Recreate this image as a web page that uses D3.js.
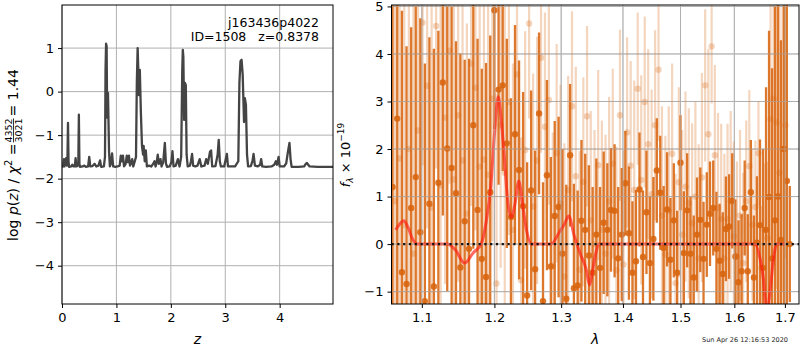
<!DOCTYPE html>
<html><head><meta charset="utf-8">
<script src="https://cdn.jsdelivr.net/npm/d3@7"></script>
<style>
body{margin:0;background:#fff;}
svg{display:block;font-family:"DejaVu Sans",sans-serif;}
</style></head><body>
<svg id="fig" width="800" height="350"></svg>
<script>
// ---- redshift probability curve: log p(z) ----
const zGrid = [0.00,0.02,0.035,0.045,0.06,0.075,0.09,0.10,0.11,0.12,0.13,0.17,0.19,0.21,0.235,0.25,0.265,0.29,0.30,0.31,0.32,0.33,0.38,0.41,0.44,0.48,0.50,0.52,0.56,0.60,0.63,0.67,0.70,0.72,0.77,0.79,0.80,0.81,0.82,0.83,0.845,0.865,0.88,0.90,0.92,0.94,0.98,1.02,1.06,1.08,1.10,1.12,1.14,1.17,1.19,1.21,1.23,1.25,1.27,1.29,1.31,1.36,1.375,1.39,1.40,1.41,1.43,1.45,1.47,1.49,1.50,1.52,1.54,1.56,1.60,1.64,1.68,1.70,1.72,1.74,1.76,1.78,1.81,1.83,1.86,1.89,1.91,1.93,1.98,2.01,2.03,2.05,2.09,2.13,2.16,2.19,2.21,2.22,2.23,2.245,2.26,2.275,2.29,2.31,2.35,2.37,2.39,2.41,2.45,2.49,2.53,2.56,2.62,2.65,2.68,2.72,2.74,2.76,2.82,2.86,2.88,2.90,2.92,2.98,3.01,3.03,3.05,3.12,3.18,3.24,3.26,3.28,3.30,3.32,3.345,3.36,3.38,3.40,3.42,3.47,3.50,3.52,3.545,3.60,3.64,3.66,3.68,3.75,3.85,3.90,3.93,3.95,3.98,4.00,4.08,4.12,4.15,4.18,4.20,4.22,4.35,4.45,4.48,4.50,4.55,4.70,4.98];
const logPz = [-1.73,-1.72,-1.55,-1.72,-1.62,-1.53,-1.70,-1.55,-0.72,-1.60,-1.73,-1.72,-1.68,-1.72,-1.72,-1.53,-1.72,-1.70,-1.62,-0.53,-1.65,-1.73,-1.72,-1.70,-1.73,-1.72,-1.50,-1.72,-1.71,-1.66,-1.72,-1.70,-1.58,-1.73,-1.72,-1.50,0.50,1.10,1.05,-0.60,-0.03,-1.40,-1.72,-1.65,-1.42,-1.72,-1.73,-1.72,-1.70,-1.47,-1.60,-1.47,-1.72,-1.66,-1.47,-1.62,-1.47,-1.70,-1.64,-1.55,-1.72,-1.50,0.20,1.00,0.60,-0.08,0.50,-0.50,-1.25,-1.45,-1.25,-1.60,-1.35,-1.72,-1.70,-1.72,-1.65,-1.60,-1.72,-1.62,-1.45,-1.66,-1.55,-1.72,-1.62,-1.18,-1.65,-1.73,-1.72,-1.62,-1.37,-1.72,-1.70,-1.55,-1.72,-1.50,0.50,0.96,0.80,-0.65,0.20,0.15,-1.45,-1.72,-1.70,-1.60,-1.43,-1.70,-1.72,-1.70,-1.55,-1.72,-1.70,-1.55,-1.66,-1.38,-1.35,-1.72,-1.71,-1.45,-1.11,-1.60,-1.72,-1.72,-1.55,-1.43,-1.72,-1.72,-1.72,-1.60,0.20,0.70,0.73,0.40,-0.70,-0.15,-0.30,-1.45,-1.72,-1.71,-1.60,-1.43,-1.70,-1.72,-1.68,-1.55,-1.72,-1.73,-1.72,-1.68,-1.60,-1.68,-1.50,-1.72,-1.72,-1.65,-1.40,-1.18,-1.55,-1.73,-1.73,-1.72,-1.66,-1.64,-1.72,-1.73,-1.73];
const zTicks = [0,1,2,3,4];
const pTicks = [-4,-3,-2,-1,0,1];

// ---- spectrum, primary extraction ----
const waveDark = [1.062,1.068,1.074,1.080,1.086,1.092,1.098,1.104,1.110,1.116,
1.122,1.128,1.134,1.140,1.146,1.152,1.158,1.164,1.170,1.176,
1.182,1.188,1.194,1.200,1.206,1.212,1.218,1.224,1.230,1.236,
1.242,1.248,1.254,1.260,1.266,1.272,1.278,1.284,1.290,1.296,
1.302,1.308,1.314,1.320,1.326,1.332,1.338,1.344,1.350,1.356,
1.362,1.368,1.374,1.380,1.386,1.392,1.398,1.404,1.410,1.416,
1.422,1.428,1.434,1.440,1.446,1.452,1.458,1.464,1.470,1.476,
1.482,1.488,1.494,1.500,1.506,1.512,1.518,1.524,1.530,1.536,
1.542,1.548,1.554,1.560,1.566,1.572,1.578,1.584,1.590,1.596,
1.602,1.608,1.614,1.620,1.626,1.632,1.638,1.644,1.650,1.656,
1.662,1.668,1.674,1.680,1.686,1.692,1.698,1.704,1.710];
const fluxDark = [1.2,2.64,-0.59,-0.84,0.76,1.41,0.25,-1.2,0.85,-0.89,
1.29,3.40,2.01,1.60,1.07,-0.49,0.48,-0.10,2.50,0.72,
-0.31,-0.69,1.09,4.92,3.25,3.34,2.12,0.57,2.31,1.56,
0.80,-1.08,1.13,-0.53,2.75,-1.20,1.45,-0.47,0.59,0.78,
-0.20,-1.15,1.87,-0.93,-0.87,0.49,0.30,-0.24,-0.60,0.20,
-0.50,0.45,0.30,0.72,0.70,-0.30,0.20,1.28,0.23,-0.60,
-0.36,1.15,-0.27,0.67,-0.40,0.11,1.55,1.08,-0.08,0.73,
-0.33,0.50,-0.60,1.71,-0.19,0.71,-0.20,-0.70,0.20,0.51,
-0.31,0.41,0.64,0.76,-0.10,-0.35,-0.63,0.32,0.37,0.91,
-0.26,-0.80,-0.57,0.76,-0.57,1.09,-0.70,0.03,0.40,-0.50,
0.30,0.99,-0.30,0.50,1.00,0.09,2.00,1.33,0.00];
const errDark = [4.2,4.0,5.5,5.0,3.8,3.6,4.5,5.0,3.5,5.0,
3.2,2.8,3.0,3.4,3.2,4.5,3.4,4.0,2.6,3.6,
4.0,4.5,3.3,2.5,2.0,1.8,2.2,2.5,2.3,2.3,
2.4,2.8,2.1,2.5,1.7,2.5,2.0,2.3,2.0,1.9,
2.2,2.4,1.5,2.2,2.0,1.7,1.6,1.9,1.8,1.6,
1.7,1.5,1.4,1.3,1.4,1.5,1.4,1.1,1.4,1.5,
1.5,1.2,1.4,1.3,1.4,1.3,1.1,1.2,1.3,1.2,
1.3,1.2,1.3,1.0,1.3,1.2,1.2,1.3,1.2,1.1,
1.2,1.1,1.1,1.0,1.2,1.2,1.3,1.1,1.1,1.0,
1.2,1.3,1.2,1.0,1.2,1.1,1.3,1.4,1.8,2.5,
3.0,3.5,4.0,4.5,5.5,4.2,5.5,5.0,1.22];

// ---- spectrum, second extraction (drawn faint) ----
const waveLight = [1.065,1.071,1.077,1.083,1.089,1.095,1.101,1.107,1.113,1.119,
1.125,1.131,1.137,1.143,1.149,1.155,1.161,1.167,1.173,1.179,
1.185,1.191,1.197,1.203,1.209,1.215,1.221,1.227,1.233,1.239,
1.245,1.251,1.257,1.263,1.269,1.275,1.281,1.287,1.293,1.299,
1.305,1.311,1.317,1.323,1.329,1.335,1.341,1.347,1.353,1.359,
1.365,1.371,1.377,1.383,1.389,1.395,1.401,1.407,1.413,1.419,
1.425,1.431,1.437,1.443,1.449,1.455,1.461,1.467,1.473,1.479,
1.485,1.491,1.497,1.503,1.509,1.515,1.521,1.527,1.533,1.539,
1.545,1.551,1.557,1.563,1.569,1.575,1.581,1.587,1.593,1.599,
1.605,1.611,1.617,1.623,1.629,1.635,1.641,1.647,1.653,1.659,
1.665,1.671,1.677,1.683,1.689,1.695,1.701];
const fluxLight = [0.9,1.8,0.4,2.0,-0.2,2.39,4.66,3.33,0.77,4.59,
1.24,2.66,4.07,1.36,2.71,1.76,0.64,3.80,3.29,1.63,
1.78,1.46,3.06,-0.83,2.5,1.5,2.99,0.30,3.57,-0.76,
1.98,4.64,0.79,1.76,3.92,2.47,3.03,-0.45,1.91,0.85,
-0.68,1.14,2.90,1.43,-0.54,1.31,2.69,0.50,0.00,1.66,
0.30,-0.20,0.90,1.69,-0.55,2.71,-0.43,2.35,1.65,1.14,
3.27,1.35,2.99,2.10,1.05,2.50,3.67,0.60,-0.22,0.70,
1.90,-0.82,1.30,0.20,1.21,0.86,0.44,1.00,-0.30,1.40,
3.34,2.31,4.16,1.87,0.76,0.53,-0.30,0.53,0.90,0.16,
-0.26,0.60,-0.40,0.90,1.64,0.41,0.78,1.91,-0.50,0.30,
0.13,2.63,3.06,2.56,1.50,2.00,2.50];
const errLight = [5.0,4.5,5.0,4.5,5.5,4.0,3.0,3.0,4.5,3.0,
4.0,3.5,2.8,4.0,3.5,3.8,4.0,3.0,3.0,3.8,
3.6,3.8,3.0,4.0,3.0,3.5,2.8,3.5,2.4,3.0,
2.5,2.0,2.8,2.6,2.0,2.4,2.2,2.8,2.3,2.5,
2.8,2.4,2.0,2.3,2.5,2.2,1.9,2.3,2.4,2.0,
2.3,2.5,2.2,2.0,2.6,1.8,2.4,2.0,2.2,2.3,
1.6,2.2,1.8,2.0,2.2,2.0,1.5,2.3,2.5,2.2,
1.9,2.3,2.0,2.2,2.0,2.0,2.1,2.0,2.4,2.2,
1.6,1.8,1.2,1.9,2.0,2.0,2.2,2.0,1.9,2.0,
2.0,1.8,1.9,1.7,1.6,1.6,1.4,1.1,1.3,1.4,
1.6,3.5,3.5,3.5,4.0,3.0,2.8];

// ---- best-fit line model ----
const waveModel = [1.066,1.071,1.0765,1.082,1.088,1.094,1.134,1.145,1.158,1.170,1.181,1.188,1.195,1.200,1.2055,1.210,1.214,1.219,1.2245,1.230,1.2357,1.241,1.247,1.2545,1.2845,1.297,1.305,1.312,1.320,1.330,1.340,1.345,1.350,1.355,1.360,1.640,1.650,1.657,1.6635,1.670,1.677,1.6835,1.700];
const fluxModel = [0.30,0.42,0.49,0.35,0.10,0.0,0.0,-0.12,-0.40,-0.18,0.0,0.45,1.25,2.30,3.10,2.60,1.90,0.95,0.56,0.85,1.33,0.85,0.30,0.0,0.0,0.25,0.42,0.59,0.20,-0.20,-0.55,-0.86,-0.55,-0.20,0.0,0.0,-0.30,-0.75,-1.45,-1.00,-0.30,0.0,0.0];
const waveTicks = [1.1,1.2,1.3,1.4,1.5,1.6,1.7];
const fluxTicks = [-1,0,1,2,3,4,5];

const svg = d3.select("#fig");
const FS = 13;

// ================= left panel =================
const L = {x0:62, x1:333, y0:5, y1:304};
const xz = d3.scaleLinear([0,4.98],[L.x0,L.x1]);
const yp = d3.scaleLinear([-4.88,1.99],[L.y1,L.y0]);
const gl = svg.append("g");

gl.append("g").selectAll("line").data(zTicks).join("line")
  .attr("x1",d=>xz(d)).attr("x2",d=>xz(d)).attr("y1",L.y0).attr("y2",L.y1)
  .attr("stroke","#b0b0b0").attr("stroke-width",1);
gl.append("g").selectAll("line").data(pTicks).join("line")
  .attr("y1",d=>yp(d)).attr("y2",d=>yp(d)).attr("x1",L.x0).attr("x2",L.x1)
  .attr("stroke","#b0b0b0").attr("stroke-width",1);

gl.append("clipPath").attr("id","clipL").append("rect")
  .attr("x",L.x0).attr("y",L.y0).attr("width",L.x1-L.x0).attr("height",L.y1-L.y0);
gl.append("path").attr("clip-path","url(#clipL)")
  .datum(d3.range(zGrid.length))
  .attr("d", d3.line().x(i=>xz(zGrid[i])).y(i=>yp(logPz[i])))
  .attr("fill","none").attr("stroke","#444").attr("stroke-width",2.3).attr("stroke-linejoin","round");

const axL = gl.append("g").attr("transform",`translate(0,${L.y1})`)
  .call(d3.axisBottom(xz).tickValues(zTicks).tickFormat(d3.format("d")).tickSize(4).tickPadding(5));
const ayL = gl.append("g").attr("transform",`translate(${L.x0},0)`)
  .call(d3.axisLeft(yp).tickValues(pTicks).tickFormat(d3.format("d")).tickSize(4).tickPadding(4));
[axL,ayL].forEach(a=>{a.select(".domain").remove();a.selectAll("text").attr("font-size",FS).attr("fill","#000").attr("font-family","DejaVu Sans");});
gl.append("rect").attr("x",L.x0).attr("y",L.y0).attr("width",L.x1-L.x0).attr("height",L.y1-L.y0)
  .attr("fill","none").attr("stroke","#000").attr("stroke-width",1);

gl.append("text").attr("x",319).attr("y",27).attr("text-anchor","end").attr("font-size",12.5).text("j163436p4022");
gl.append("text").attr("x",319).attr("y",41).attr("text-anchor","end").attr("font-size",12.5)
  .attr("xml:space","preserve").text("ID=1508   z=0.8378");
gl.append("text").attr("x",(L.x0+L.x1)/2).attr("y",344).attr("text-anchor","middle")
  .attr("font-size",14).attr("font-style","italic").text("z");

// y label with stacked fraction
(function(){
  const g = gl.append("g");
  const t1 = g.append("text").attr("font-size",14);
  t1.append("tspan").text("log ");
  t1.append("tspan").attr("font-style","italic").text("p");
  t1.append("tspan").text("(");
  t1.append("tspan").attr("font-style","italic").text("z");
  t1.append("tspan").text(") / ");
  t1.append("tspan").attr("font-style","italic").text("χ");
  t1.append("tspan").attr("font-size",10).attr("dy",-6).text("2");
  t1.append("tspan").attr("dy",6).text(" = ");
  const w1 = t1.node().getComputedTextLength();
  const fw = 24;
  const fx = w1 + 1 + fw/2;
  g.append("text").attr("x",fx).attr("y",-6).attr("text-anchor","middle").attr("font-size",9.5).text("4352");
  g.append("text").attr("x",fx).attr("y",4).attr("text-anchor","middle").attr("font-size",9.5).text("3021");
  g.append("line").attr("x1",w1+1).attr("x2",w1+1+fw).attr("y1",-4.5).attr("y2",-4.5).attr("stroke","#000").attr("stroke-width",0.8);
  const t3 = g.append("text").attr("x",w1+fw+3).attr("font-size",14).text(" = 1.44");
  const W = w1 + fw + 3 + t3.node().getComputedTextLength();
  g.attr("transform",`translate(18,${155+W/2}) rotate(-90)`);
})();

// ================= right panel =================
const R = {x0:391.5, x1:799, y0:5, y1:304};
const xw = d3.scaleLog([1.0607,1.729],[R.x0,R.x1]);
const yf = d3.scaleLinear([-1.26,5.03],[R.y1,R.y0]);
const gr = svg.append("g");
gr.append("clipPath").attr("id","clipR").append("rect")
  .attr("x",R.x0).attr("y",R.y0).attr("width",R.x1-R.x0).attr("height",R.y1-R.y0);
const data = gr.append("g").attr("clip-path","url(#clipR)");
const ORANGE = "#d8640e";

function errorSeries(g, wave, flux, err, alpha, w){
  const idx = d3.range(wave.length);
  g.append("g").selectAll("line").data(idx).join("line")
    .attr("x1",i=>xw(wave[i])).attr("x2",i=>xw(wave[i]))
    .attr("y1",i=>yf(flux[i]-err[i])).attr("y2",i=>yf(flux[i]+err[i]))
    .attr("stroke",ORANGE).attr("stroke-width",w).attr("stroke-opacity",alpha);
  g.append("g").selectAll("circle").data(idx).join("circle")
    .attr("cx",i=>xw(wave[i])).attr("cy",i=>yf(flux[i])).attr("r",3.2)
    .attr("fill",ORANGE).attr("fill-opacity",alpha);
}

// grid (under the data, visible through the translucent bars)
gr.append("g").selectAll("line").data(waveTicks).join("line")
  .attr("x1",d=>xw(d)).attr("x2",d=>xw(d)).attr("y1",R.y0).attr("y2",R.y1)
  .attr("stroke","#b0b0b0").attr("stroke-width",1);
gr.append("g").selectAll("line").data(fluxTicks).join("line")
  .attr("y1",d=>yf(d)).attr("y2",d=>yf(d)).attr("x1",R.x0).attr("x2",R.x1)
  .attr("stroke","#b0b0b0").attr("stroke-width",1);

const data2 = gr.append("g").attr("clip-path","url(#clipR)");
errorSeries(data2, waveLight, fluxLight, errLight, 0.27, 2.2);
errorSeries(data2, waveDark, fluxDark, errDark, 0.88, 2.3);

// grid drawn again faintly on top
gr.append("g").selectAll("line").data(waveTicks).join("line")
  .attr("x1",d=>xw(d)).attr("x2",d=>xw(d)).attr("y1",R.y0).attr("y2",R.y1)
  .attr("stroke","#b0b0b0").attr("stroke-width",1).attr("stroke-opacity",0.6);
gr.append("g").selectAll("line").data(fluxTicks).join("line")
  .attr("y1",d=>yf(d)).attr("y2",d=>yf(d)).attr("x1",R.x0).attr("x2",R.x1)
  .attr("stroke","#b0b0b0").attr("stroke-width",1).attr("stroke-opacity",0.6);

// model
data2.append("path").datum(d3.range(waveModel.length))
  .attr("d", d3.line().x(i=>xw(waveModel[i])).y(i=>yf(fluxModel[i])).curve(d3.curveMonotoneX))
  .attr("fill","none").attr("stroke","#ff1a10").attr("stroke-opacity",0.65).attr("stroke-width",3);

// zero level
gr.append("line").attr("x1",R.x0).attr("x2",R.x1).attr("y1",yf(0)).attr("y2",yf(0))
  .attr("stroke","#111").attr("stroke-width",2.2).attr("stroke-dasharray","2.2 3.6");

const axR = gr.append("g").attr("transform",`translate(0,${R.y1})`)
  .call(d3.axisBottom(xw).tickValues(waveTicks).tickFormat(d3.format(".1f")).tickSize(4).tickPadding(5));
const ayR = gr.append("g").attr("transform",`translate(${R.x0},0)`)
  .call(d3.axisLeft(yf).tickValues(fluxTicks).tickFormat(d3.format("d")).tickSize(4).tickPadding(4));
[axR,ayR].forEach(a=>{a.select(".domain").remove();a.selectAll("text").attr("font-size",FS).attr("fill","#000").attr("font-family","DejaVu Sans");});
gr.append("rect").attr("x",R.x0).attr("y",R.y0).attr("width",R.x1-R.x0).attr("height",R.y1-R.y0)
  .attr("fill","none").attr("stroke","#000").attr("stroke-width",1);

gr.append("text").attr("x",(R.x0+R.x1)/2).attr("y",344).attr("text-anchor","middle")
  .attr("font-size",14).attr("font-style","italic").text("λ");

(function(){
  const t = gr.append("text").attr("font-size",13).attr("text-anchor","middle")
    .attr("transform","translate(350,155) rotate(-90)");
  t.append("tspan").attr("font-style","italic").text("f");
  t.append("tspan").attr("font-style","italic").attr("font-size",9).attr("dy",3).text("λ");
  t.append("tspan").attr("dy",-3).text(" × 10");
  t.append("tspan").attr("font-size",9).attr("dy",-6).text("−19");
})();

svg.append("text").attr("x",788).attr("y",342).attr("text-anchor","end").attr("font-size",6.5)
  .attr("fill","#222").text("Sun Apr 26 12:16:53 2020");
</script>
</body></html>
